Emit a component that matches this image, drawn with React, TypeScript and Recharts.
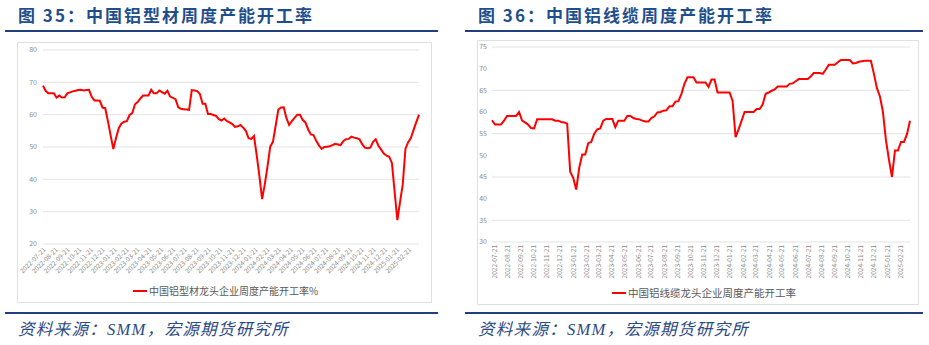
import React from "react";
import { LineChart, Line, XAxis, YAxis, CartesianGrid } from "recharts";

// weekly series, starting 2022-07-21
const startDate = "2022-07-21";

const monthLabels = [
  "2022-07-21", "2022-08-21", "2022-09-21", "2022-10-21", "2022-11-21", "2022-12-21",
  "2023-01-21", "2023-02-21", "2023-03-21", "2023-04-21", "2023-05-21", "2023-06-21",
  "2023-07-21", "2023-08-21", "2023-09-21", "2023-10-21", "2023-11-21", "2023-12-21",
  "2024-01-21", "2024-02-21", "2024-03-21", "2024-04-21", "2024-05-21", "2024-06-21",
  "2024-07-21", "2024-08-21", "2024-09-21", "2024-10-21", "2024-11-21", "2024-12-21",
  "2025-01-21", "2025-02-21",
];

// 中国铝型材龙头企业周度产能开工率
const profileRate = [
  69.0, 67.3, 66.6, 66.6, 66.6, 65.3, 65.9, 65.3, 65.4, 66.6,
  66.9, 67.2, 67.4, 67.6, 67.7, 67.5, 67.6, 67.7, 65.5, 64.4,
  64.4, 64.3, 62.2, 62.0, 58.0, 53.6, 49.4, 52.8, 55.8, 57.3,
  57.8, 58.0, 59.9, 60.5, 63.2, 63.9, 65.0, 65.9, 65.9, 65.9,
  67.7, 66.6, 66.6, 67.5, 67.0, 66.5, 67.4, 65.6, 65.2, 64.8,
  62.3, 61.8, 61.7, 61.6, 61.5, 67.6, 67.5, 67.3, 66.4, 63.4,
  63.4, 60.2, 60.2, 59.9, 59.6, 58.6, 58.2, 58.8, 58.0, 57.6,
  57.1, 56.2, 56.4, 56.8, 56.0, 55.0, 52.7, 52.5, 53.4, 47.5,
  41.0, 33.9, 38.5, 44.0, 50.1, 51.6, 56.5, 61.6, 62.2, 62.3,
  58.9, 56.8, 58.0, 59.0, 60.0, 60.0, 58.4, 57.6, 55.5, 53.9,
  53.7, 51.9, 50.5, 49.4, 50.0, 50.1, 50.2, 50.6, 51.0, 50.8,
  50.6, 51.8, 52.4, 52.5, 53.2, 52.9, 52.7, 52.4, 50.9, 49.8,
  49.6, 49.8, 51.6, 52.4, 50.4, 49.2, 48.0, 47.3, 47.0, 45.0,
  36.0, 27.4, 33.0, 38.5, 49.5, 51.5, 52.8, 55.3, 57.7, 60.0,
];

// 中国铝线缆龙头企业周度产能开工率
const cableRate = [
  58.1, 57.1, 57.1, 57.1, 58.0, 59.1, 59.1, 59.1, 59.1, 60.0,
  58.0, 57.6, 57.1, 56.3, 56.2, 58.3, 58.3, 58.3, 58.3, 58.3,
  58.3, 58.0, 58.0, 57.7, 57.6, 57.3, 46.2, 44.8, 42.1, 47.1,
  50.2, 50.2, 52.8, 53.1, 55.0, 56.0, 56.2, 58.0, 58.4, 58.4,
  58.4, 56.5, 58.0, 58.0, 58.0, 59.1, 59.1, 58.6, 58.4, 58.3,
  58.0, 57.8, 57.8, 58.6, 59.0, 59.9, 60.0, 60.3, 60.4, 61.3,
  61.3, 62.4, 62.5, 64.2, 66.5, 68.0, 68.0, 68.0, 66.8, 66.8,
  66.8, 66.8, 65.8, 67.5, 67.5, 64.5, 64.5, 64.5, 64.5, 64.5,
  62.6, 54.2, 56.0, 58.0, 60.0, 60.0, 60.0, 60.0, 60.7, 60.7,
  61.7, 64.2, 64.5, 64.9, 65.2, 65.9, 65.9, 65.9, 65.9, 66.5,
  66.6, 67.1, 67.6, 67.6, 67.6, 67.6, 68.2, 69.0, 69.0, 69.0,
  68.8, 69.8, 70.9, 70.9, 70.9, 71.5, 72.0, 72.0, 72.0, 72.0,
  71.2, 71.3, 71.6, 71.7, 71.8, 71.8, 71.8, 68.8, 65.5, 63.6,
  60.0, 53.5, 49.0, 45.0, 51.1, 51.1, 53.1, 53.1, 54.9, 58.0,
];

const profileTicks = [20, 30, 40, 50, 60, 70, 80];
const cableTicks = [30, 35, 40, 45, 50, 55, 60, 65, 70, 75];

const t0 = Date.parse(startDate);
const dayOf = (s: string) => Math.round((Date.parse(s) - t0) / 86400000);
const tickDays = monthLabels.map(dayOf);
const labelOf = (d: number) => monthLabels[tickDays.indexOf(d)] ?? "";
const lastDay = (profileRate.length - 1) * 7;

const profileData = profileRate.map((v, i) => ({ day: i * 7, value: v }));
const cableData = cableRate.map((v, i) => ({ day: i * 7, value: v }));

const NAVY = "#1F3F7F";
const TITLE = "#1F4E8C";
const AXIS_TXT = "#8c8c8c";
const FONT = "'Noto Sans CJK SC', 'Noto Sans', sans-serif";

function Title({ x, text }: { x: number; text: string }) {
  return (
    <div
      style={{
        position: "absolute", left: x, top: 5, fontSize: 17, lineHeight: "20px",
        fontWeight: 700, letterSpacing: 2, color: TITLE, fontFamily: FONT, whiteSpace: "nowrap",
      }}
    >
      {text}
    </div>
  );
}

function Rule({ x, w, y }: { x: number; w: number; y: number }) {
  return <div style={{ position: "absolute", left: x, top: y, width: w, height: 2, background: NAVY }} />;
}

function Source({ x }: { x: number }) {
  return (
    <div
      style={{
        position: "absolute", left: x, top: 320, fontSize: 16.5, lineHeight: "20px",
        fontStyle: "italic", letterSpacing: 1.3, color: "#2B4A84",
        fontFamily: "'Liberation Serif', 'Noto Sans CJK SC', serif", whiteSpace: "nowrap",
      }}
    >
      资料来源：SMM，宏源期货研究所
    </div>
  );
}

function LegendItem({ x, y, text, size }: { x: number; y: number; text: string; size: number }) {
  return (
    <div style={{ position: "absolute", left: x, top: y, display: "flex", alignItems: "center", whiteSpace: "nowrap" }}>
      <div style={{ width: 14, height: 2, background: "#ff0000", marginRight: 2 }} />
      <span style={{ fontSize: size, color: "#595959", fontFamily: FONT, lineHeight: "14px" }}>{text}</span>
    </div>
  );
}

export default function App() {
  return (
    <div style={{ position: "absolute", left: 0, top: 0, width: 929, height: 345, background: "#fff", overflow: "hidden" }}>
      {/* left panel */}
      <Title x={18} text="图 35：中国铝型材周度产能开工率" />
      <Rule x={5} w={433} y={30} />
      <div style={{ position: "absolute", left: 17, top: 42, width: 413, height: 259, border: "1px solid #e0e0e0" }} />
      <div style={{ position: "absolute", left: 17, top: 42 }}>
        <LineChart width={414} height={260} data={profileData} margin={{ top: 8, right: 12, left: 0, bottom: 0 }}>
          <CartesianGrid horizontal vertical={false} stroke="#e3e3e3" />
          <XAxis
            dataKey="day" type="number" domain={[0, lastDay]} ticks={tickDays} interval={0}
            tickFormatter={labelOf} height={58} axisLine={false} tickLine={false} tickSize={0} tickMargin={3}
            angle={-45}
            tick={{ fontSize: 6.5, fill: AXIS_TXT, textAnchor: "end", fontFamily: FONT }}
          />
          <YAxis
            type="number" domain={[20, 80]} ticks={profileTicks} width={26}
            axisLine={false} tickLine={false} tickSize={0} tickMargin={6}
            tick={{ fontSize: 7, fill: AXIS_TXT, fontFamily: FONT }}
          />
          <Line type="linear" dataKey="value" stroke="#ff0000" strokeWidth={2} dot={false} isAnimationActive={false} />
        </LineChart>
      </div>
      <LegendItem x={133} y={284} size={10} text="中国铝型材龙头企业周度产能开工率%" />
      <Rule x={5} w={433} y={312} />
      <Source x={18} />

      {/* right panel */}
      <Title x={478} text="图 36：中国铝线缆周度产能开工率" />
      <Rule x={465} w={458} y={30} />
      <div style={{ position: "absolute", left: 477, top: 40, width: 440, height: 263, border: "1px solid #e0e0e0" }} />
      <div style={{ position: "absolute", left: 477, top: 40 }}>
        <LineChart width={441} height={264} data={cableData} margin={{ top: 7, right: 8, left: 0, bottom: 0 }}>
          <CartesianGrid horizontal vertical={false} stroke="#e3e3e3" />
          <XAxis
            dataKey="day" type="number" domain={[0, lastDay]} ticks={tickDays} interval={0}
            tickFormatter={labelOf} height={62} axisLine={false} tickLine={false} tickSize={0} tickMargin={3}
            angle={-90}
            tick={{ fontSize: 6.5, fill: AXIS_TXT, textAnchor: "end", fontFamily: FONT }}
          />
          <YAxis
            type="number" domain={[30, 75]} ticks={cableTicks} width={15}
            axisLine={false} tickLine={false} tickSize={0} tickMargin={5}
            tick={{ fontSize: 7, fill: AXIS_TXT, fontFamily: FONT }}
          />
          <Line type="linear" dataKey="value" stroke="#ff0000" strokeWidth={2} dot={false} isAnimationActive={false} />
        </LineChart>
      </div>
      <LegendItem x={612} y={286} size={10.5} text="中国铝线缆龙头企业周度产能开工率" />
      <Rule x={465} w={458} y={312} />
      <Source x={478} />
    </div>
  );
}
